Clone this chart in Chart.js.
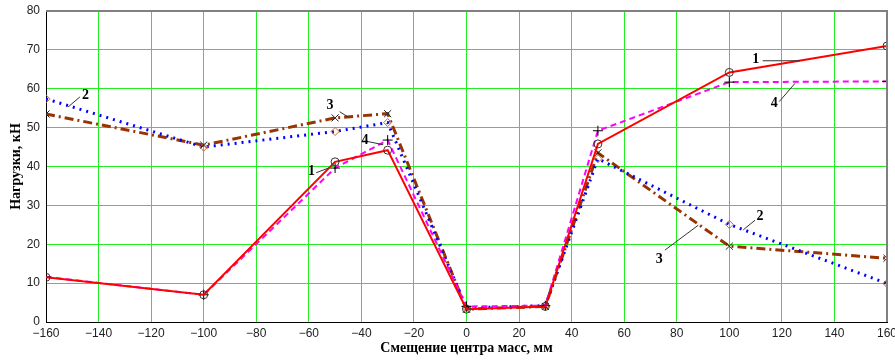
<!DOCTYPE html>
<html lang="ru">
<head>
  <meta charset="UTF-8">
  <title>Нагрузки</title>
  <script src="https://cdn.jsdelivr.net/npm/chart.js"></script>
  <style>
    html, body { margin: 0; padding: 0; background: #fff; }
    #wrap { width: 895px; height: 361px; }
  </style>
</head>
<body>
<div id="wrap"><canvas id="chart"></canvas></div>
<script>
  // смещение центра масс, мм
  const shifts = [-160, -100, -50, -30, 0, 30, 50, 100, 160];
  const load1 = [11.5, 7.0, 41.2, 44.2, 3.3, 4.0, 45.8, 64.2, 71.0];
  const load2 = [57.4, 45.0, 49.0, 51.3, 3.6, 4.2, 42.0, 25.1, 9.9];
  const load3 = [53.5, 45.5, 52.5, 53.6, 3.3, 4.0, 43.5, 19.5, 16.4];
  const load4 = [11.6, 7.0, 39.6, 46.8, 4.0, 4.2, 49.2, 61.7, 61.9];

  // подписи кривых: текст, позиция текста, выноска (в единицах осей)
  const curveLabels = [
    { text: '1', x: -59.0, y: 38.8, from: [-57.2, 38.4], to: [-52.5, 39.6] },
    { text: '4', x: -38.6, y: 46.6, from: [-37.4, 46.4], to: [-31.7, 45.6] },
    { text: '3', x: -51.9, y: 55.8, from: [-48.3, 54.1], to: [-45.0, 52.7] },
    { text: '2', x: -145.0, y: 58.4, from: [-147.1, 57.9], to: [-151.6, 55.3] },
    { text: '1', x: 110.1, y: 67.6, from: [112.7, 67.2], to: [126.9, 67.2] },
    { text: '4', x: 117.1, y: 56.3, from: [119.0, 56.7], to: [125.0, 61.4] },
    { text: '2', x: 111.7, y: 27.1, from: [109.8, 26.2], to: [105.3, 23.7] },
    { text: '3', x: 73.3, y: 16.2, from: [75.5, 18.5], to: [88.2, 24.9] }
  ];

  const pts = arr => arr.map((v, i) => ({ x: shifts[i], y: v }));

  const frame = {
    id: 'frame',
    afterDraw(chart) {
      const { ctx, chartArea: a, scales: { x, y } } = chart;
      ctx.save();
      ctx.strokeStyle = '#808080';
      ctx.lineWidth = 2;
      ctx.beginPath();
      ctx.moveTo(a.left, a.top);
      ctx.lineTo(a.right, a.top);
      ctx.lineTo(a.right, a.bottom);
      ctx.stroke();

      ctx.strokeStyle = '#333';
      ctx.lineWidth = 1;
      ctx.fillStyle = '#000';
      ctx.font = 'bold 14px "Liberation Serif", serif';
      ctx.textAlign = 'center';
      ctx.textBaseline = 'middle';
      curveLabels.forEach(l => {
        ctx.beginPath();
        ctx.moveTo(x.getPixelForValue(l.from[0]), y.getPixelForValue(l.from[1]));
        ctx.lineTo(x.getPixelForValue(l.to[0]), y.getPixelForValue(l.to[1]));
        ctx.stroke();
        ctx.fillText(l.text, x.getPixelForValue(l.x), y.getPixelForValue(l.y));
      });
      ctx.restore();
    }
  };

  const tickFont = { family: '"Liberation Sans", Arial, sans-serif', size: 12 };
  const titleFont = { family: '"Liberation Serif", serif', size: 14, weight: 'bold' };

  new Chart(document.getElementById('chart'), {
    type: 'line',
    data: {
      datasets: [
        {
          label: '1', data: pts(load1), order: 1,
          borderColor: '#ff0000', borderWidth: 2,
          pointStyle: 'circle', pointRadius: 4, pointBorderColor: '#333',
          pointBackgroundColor: 'rgba(0,0,0,0)', pointBorderWidth: 1
        },
        {
          label: '4', data: pts(load4), order: 2,
          borderColor: '#ff00ff', borderWidth: 2, borderDash: [6, 4],
          pointStyle: 'cross', pointRadius: 5, pointBorderColor: '#000', pointBorderWidth: 1
        },
        {
          label: '2', data: pts(load2), order: 3,
          borderColor: '#0000ff', borderWidth: 3, borderDash: [2, 5],
          pointStyle: 'rectRot', pointRadius: 4, pointBorderColor: '#cc6633',
          pointBackgroundColor: 'rgba(0,0,0,0)', pointBorderWidth: 1
        },
        {
          label: '3', data: pts(load3), order: 4,
          borderColor: '#993300', borderWidth: 3, borderDash: [9, 4, 2, 4],
          pointStyle: 'crossRot', pointRadius: 5, pointBorderColor: '#222', pointBorderWidth: 1
        }
      ]
    },
    options: {
      responsive: true,
      maintainAspectRatio: false,
      animation: false,
      layout: { padding: { top: 11, right: 8, left: 0, bottom: 0 } },
      plugins: { legend: { display: false }, tooltip: { enabled: false } },
      elements: { line: { tension: 0, fill: false } },
      scales: {
        x: {
          type: 'linear', min: -160, max: 160,
          afterFit: s => { s.height = 39; s.paddingLeft = 0; s.paddingRight = 0; },
          ticks: {
            stepSize: 20, font: tickFont, color: '#222', padding: 4, maxRotation: 0,
            callback: v => String(v).replace('-', '−')
          },
          grid: { color: '#22ee22', lineWidth: 1, drawTicks: false },
          border: { color: '#000', width: 1 },
          title: { display: true, text: 'Смещение центра масс, мм', font: titleFont, color: '#000', padding: { top: 3 } }
        },
        y: {
          min: 0, max: 80,
          afterFit: s => { s.width = 46; s.paddingTop = 0; s.paddingBottom = 0; },
          ticks: { stepSize: 10, font: tickFont, color: '#222', padding: 6 },
          grid: { color: '#22ee22', lineWidth: 1, drawTicks: false },
          border: { color: '#000', width: 1 },
          title: { display: true, text: 'Нагрузки, кН', font: titleFont, color: '#000', padding: { top: 8, bottom: 0 } }
        }
      }
    },
    plugins: [frame]
  });
</script>
</body>
</html>
